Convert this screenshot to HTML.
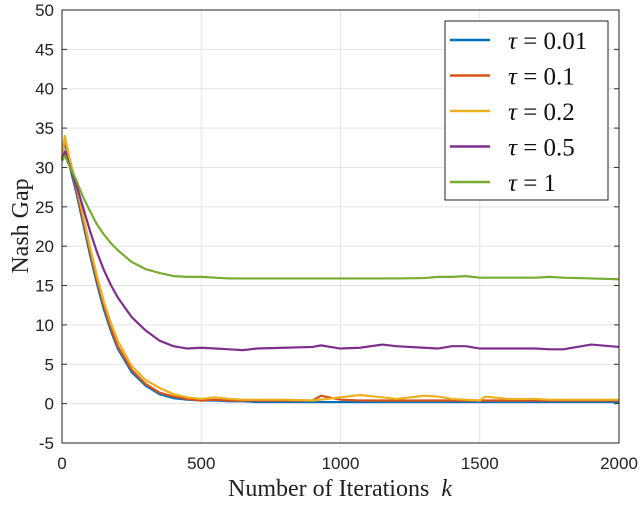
<!DOCTYPE html>
<html><head><meta charset="utf-8"><style>
body{margin:0;background:#fff;width:640px;height:502px;overflow:hidden}
.sans{font-family:"Liberation Sans",sans-serif}
.serif{font-family:"Liberation Serif",serif}
</style></head><body>
<svg id="chart" width="640" height="502"></svg>
<script>
const ks=[0,10,25,50,75,100,125,150,175,200,250,300,350,400,450,500,550,600,650,700,800,900,930,1000,1070,1150,1200,1300,1350,1400,1450,1500,1520,1600,1700,1750,1800,1900,2000];
const s001=[31,33.5,30.5,27,23,19,15.3,12,9.3,7,4,2.3,1.2,0.7,0.5,0.4,0.4,0.3,0.3,0.2,0.2,0.2,0.2,0.2,0.2,0.2,0.2,0.2,0.2,0.2,0.2,0.2,0.2,0.2,0.2,0.2,0.2,0.2,0.2];
const s01=[31,33.8,31,27.5,23.5,19.5,15.8,12.5,9.7,7.3,4.3,2.5,1.4,0.9,0.6,0.4,0.5,0.4,0.4,0.4,0.4,0.4,1.0,0.5,0.4,0.4,0.4,0.4,0.4,0.4,0.4,0.4,0.4,0.4,0.4,0.4,0.4,0.4,0.4];
const s02=[31,34,31.5,28,24,20,16.3,13,10.3,8,4.8,3,2,1.2,0.8,0.6,0.8,0.6,0.5,0.5,0.5,0.4,0.5,0.8,1.1,0.8,0.6,1.0,0.9,0.6,0.5,0.4,0.9,0.6,0.6,0.5,0.5,0.5,0.5];
const s05=[31,32,30.5,28,25,22,19.3,17,15.1,13.5,11,9.3,8,7.3,7.0,7.1,7.0,6.9,6.8,7.0,7.1,7.2,7.4,7.0,7.1,7.5,7.3,7.1,7.0,7.3,7.3,7.0,7.0,7.0,7.0,6.9,6.9,7.5,7.2];
const s1=[30.8,31.5,30.3,28.5,26.3,24.5,22.8,21.5,20.4,19.5,18,17.1,16.6,16.2,16.1,16.1,16.0,15.9,15.9,15.9,15.9,15.9,15.9,15.9,15.9,15.9,15.9,15.95,16.1,16.1,16.2,16.0,16.0,16.0,16.0,16.1,16.0,15.9,15.8];
const seriesData=[s001,s01,s02,s05,s1];
const seriesLabels=["0.01","0.1","0.2","0.5","1"];
const seriesColors=["#0072BD","#D95319","#EDB120","#7E2F8E","#77AC30"];
const yTicks=[-5,0,5,10,15,20,25,30,35,40,45,50];
const xTicks=[0,500,1000,1500,2000];
const L=62,R=619,T=10,B=443;
const xs=v=>L+(v-0)/(2000)*(R-L);
const ys=v=>B-(v+5)/55*(B-T);
const svg=document.getElementById('chart');
const NS='http://www.w3.org/2000/svg';
function mk(tag,attrs,parent){const e=document.createElementNS(NS,tag);for(const k in attrs)e.setAttribute(k,attrs[k]);(parent||svg).appendChild(e);return e;}
yTicks.forEach(v=>{
 const g=mk('line',{x1:L,x2:R,y1:ys(v),y2:ys(v),stroke:'#e3e3e3','stroke-width':1});
 
 
 const t=mk('text',{x:L-8,y:ys(v)+6,'text-anchor':'end','font-size':17,fill:'#222',class:'sans'});
 t.textContent=v;
 
 
 mk('line',{x1:L,x2:L+5,y1:ys(v),y2:ys(v),stroke:'#333'});
 mk('line',{x1:R,x2:R-5,y1:ys(v),y2:ys(v),stroke:'#333'});
});
xTicks.forEach(v=>{
 const g=mk('line',{x1:xs(v),x2:xs(v),y1:T,y2:B,stroke:'#e3e3e3','stroke-width':1});
 
 
 const t=mk('text',{x:xs(v),y:B+26,'text-anchor':'middle','font-size':17,fill:'#222',class:'sans'});
 t.textContent=v;
 
 
});
seriesData.forEach((d,i)=>{
 const p=mk('polyline',{points:d.map((v,j)=>xs(ks[j])+','+ys(v)).join(' '),fill:'none',stroke:seriesColors[i],'stroke-width':2.2,'stroke-linejoin':'round'});
 
 
});
const frame=mk('rect',{x:L,y:T,width:R-L,height:B-T,fill:'none',stroke:'#222','stroke-width':1});


const lg=mk('g',{});


mk('rect',{x:445,y:21,width:163,height:179,fill:'#fff',stroke:'#222'},lg);
seriesLabels.forEach((lab,i)=>{
 const y=40+i*35.5;
 const e=mk('g',{},lg);
 
 
 mk('line',{x1:450,x2:490,y1:y,y2:y,stroke:seriesColors[i],'stroke-width':2.5},e);
 const t=mk('text',{x:508,y:y+9,'font-size':25,fill:'#111',class:'serif'},e);
 t.innerHTML='<tspan font-style="italic">τ</tspan> = '+lab;
});
const yl=mk('text',{x:0,y:0,transform:'translate(28,226) rotate(-90)','text-anchor':'middle','font-size':24,fill:'#222',class:'serif'});
yl.textContent='Nash Gap';


const xl=mk('text',{x:340,y:496,'text-anchor':'middle','font-size':24,fill:'#222',class:'serif'});
xl.innerHTML='Number of Iterations&#160;&#160;<tspan font-style="italic">k</tspan>';


</script>
</body></html>
